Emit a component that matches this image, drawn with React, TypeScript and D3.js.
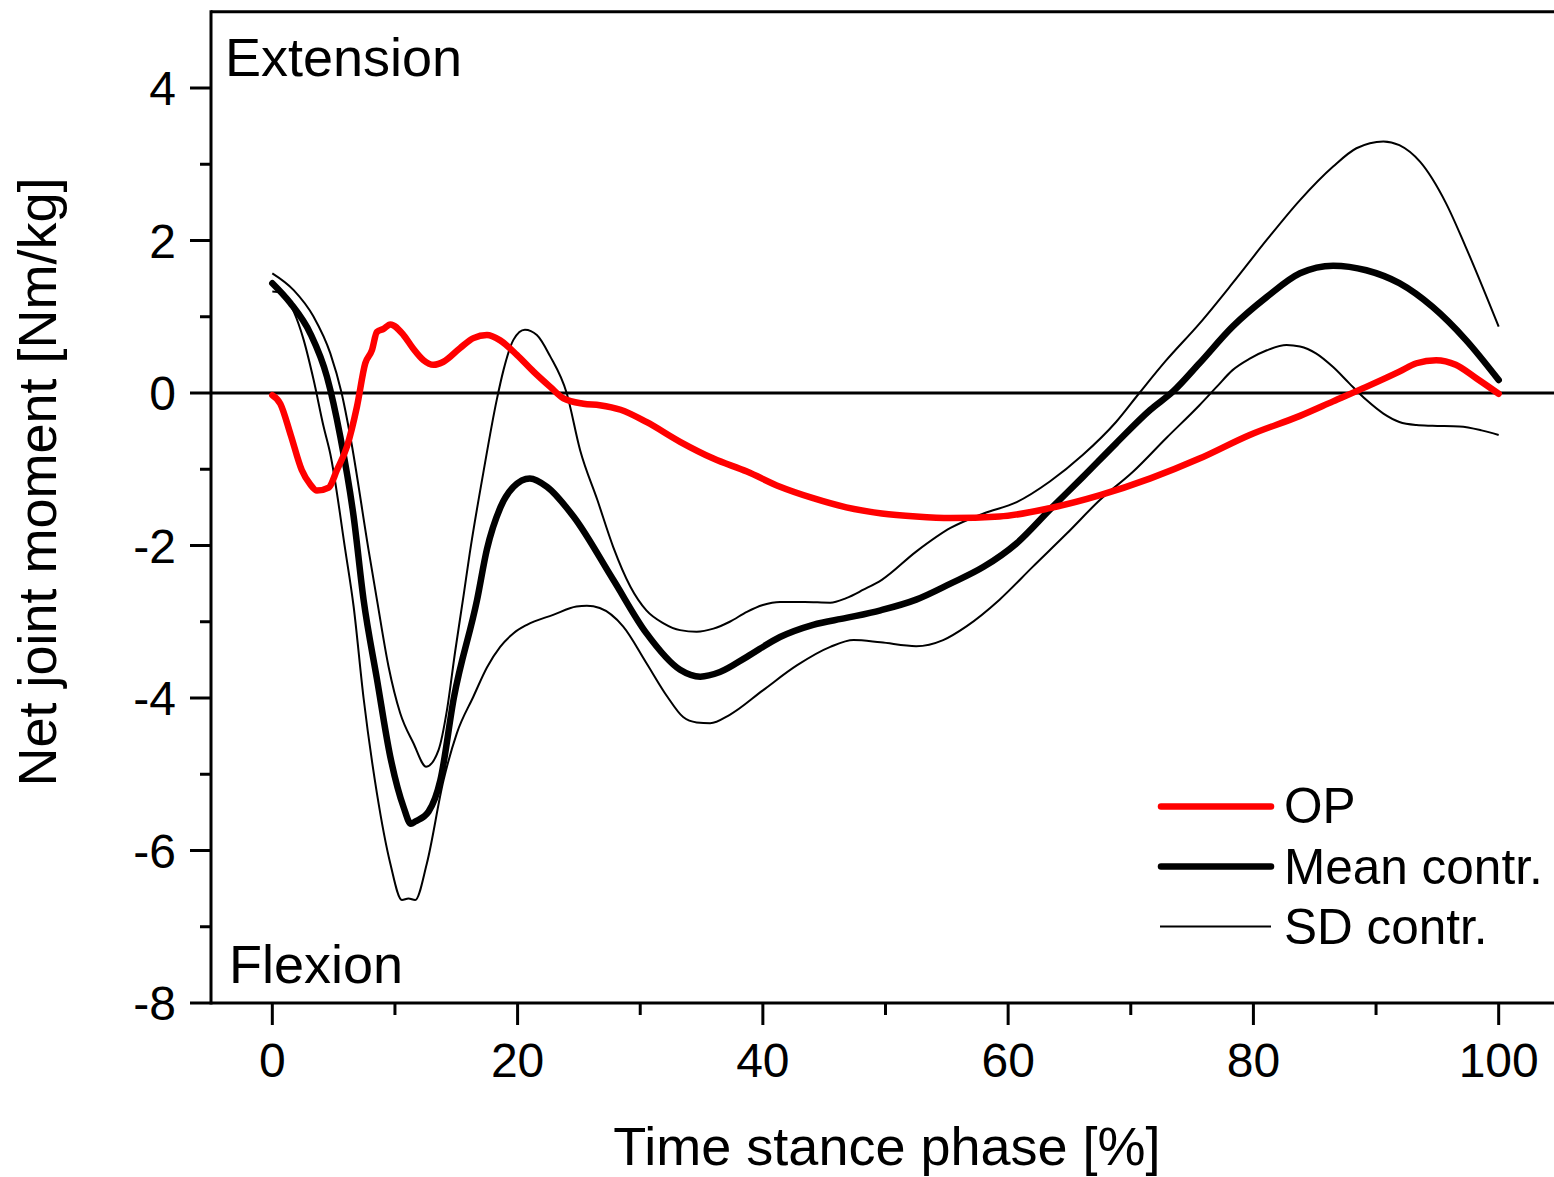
import React from "react";
import * as d3 from "d3";

const xTicksMajor = [0, 20, 40, 60, 80, 100];
const xTicksMinor = [10, 30, 50, 70, 90];
const yTicksMajor = [4, 2, 0, -2, -4, -6, -8];
const yTicksMinor = [3, 1, -1, -3, -5, -7];

const opSeries: [number, number][] = [
  [0, -0.03], [0.65, -0.14], [1.5, -0.55], [2.4, -1.01], [3.1, -1.2], [3.64, -1.28], [4.6, -1.24],
  [5.27, -1.01], [6.09, -0.7], [6.9, -0.18], [7.58, 0.39], [8.12, 0.56], [8.53, 0.8], [9.07, 0.84],
  [9.62, 0.9], [10.7, 0.76], [11.5, 0.58], [12.33, 0.43], [13.15, 0.37], [13.96, 0.41], [15.32, 0.59],
  [16.4, 0.72], [17.5, 0.76], [18.58, 0.69], [19.94, 0.5], [21.3, 0.28], [22.66, 0.08], [23.74, -0.07],
  [25.37, -0.14], [26.7, -0.16], [28.4, -0.22], [30.5, -0.38], [33.25, -0.64], [35.97, -0.86],
  [38.7, -1.03], [41.4, -1.23], [44.1, -1.38], [46.8, -1.5], [49.7, -1.58], [52.5, -1.62], [55.3, -1.64],
  [59.3, -1.62], [63.4, -1.51], [67.5, -1.34], [71.6, -1.12], [75.6, -0.86], [79.7, -0.55], [83.8, -0.3],
  [86.5, -0.11], [89.2, 0.08], [91.9, 0.28], [93.3, 0.39], [94.9, 0.43], [96.5, 0.37], [98.2, 0.19], [100, -0.01],
];

const meanSeries: [number, number][] = [
  [0, 1.44], [1.47, 1.18], [3.1, 0.78], [4.46, 0.21], [5.54, -0.57], [6.63, -1.62], [7.44, -2.71],
  [8.53, -3.75], [9.62, -4.77], [10.7, -5.43], [11.3, -5.65], [11.65, -5.62], [12.74, -5.49],
  [13.7, -5.08], [14.8, -4.0], [16.7, -2.71], [17.5, -2.05], [18.6, -1.5], [19.67, -1.23], [21.0, -1.12],
  [22.4, -1.23], [24.56, -1.62], [27.8, -2.45], [30.5, -3.15], [33.25, -3.63], [34.9, -3.72],
  [36.5, -3.66], [38.7, -3.46], [41.4, -3.2], [44.1, -3.04], [46.8, -2.95], [49.6, -2.85], [52.5, -2.71],
  [55.3, -2.5], [58.0, -2.28], [60.7, -1.97], [63.4, -1.53], [66.1, -1.1], [68.8, -0.66], [71.6, -0.22],
  [73.45, 0.02], [75.6, 0.39], [78.3, 0.87], [81.1, 1.26], [83.8, 1.57], [86.5, 1.67], [89.2, 1.61],
  [91.9, 1.44], [94.6, 1.13], [97.3, 0.7], [100, 0.17],
];

const sdUpperSeries: [number, number][] = [
  [0, 1.57], [1.74, 1.35], [3.37, 1.0], [4.73, 0.52], [5.65, 0.0], [6.36, -0.57], [7.85, -2.06],
  [8.53, -2.71], [9.48, -3.59], [10.43, -4.2], [11.5, -4.59], [12.55, -4.9], [13.56, -4.68],
  [14.24, -4.16], [14.9, -3.4], [15.6, -2.65], [16.1, -2.1], [17.2, -1.05], [18.3, -0.09],
  [18.85, 0.3], [19.67, 0.7], [20.6, 0.83], [21.57, 0.76], [22.66, 0.48], [24.0, 0.0], [25.1, -0.75],
  [26.5, -1.4], [27.8, -2.02], [29.2, -2.54], [30.5, -2.85], [31.9, -3.02], [33.25, -3.11],
  [34.6, -3.13], [35.97, -3.09], [37.3, -3.0], [38.7, -2.87], [40.0, -2.78], [41.4, -2.74],
  [43.4, -2.74], [45.5, -2.75], [46.8, -2.69], [48.2, -2.58], [49.7, -2.45], [52.5, -2.08],
  [55.3, -1.77], [58.0, -1.58], [60.7, -1.43], [63.4, -1.16], [66.1, -0.81], [68.8, -0.38], [70.7, 0.0],
  [72.9, 0.43], [75.6, 0.91], [78.3, 1.44], [81.1, 2.01], [83.8, 2.53], [86.5, 2.97], [88.4, 3.21],
  [90.6, 3.3], [91.9, 3.25], [93.6, 3.03], [95.7, 2.49], [97.3, 1.92], [100, 0.87],
];

const sdLowerSeries: [number, number][] = [
  [0, 1.33], [0.8, 1.31], [1.74, 1.07], [2.55, 0.7], [3.37, 0.17], [4.18, -0.44], [4.73, -0.8],
  [5.95, -2.06], [6.63, -2.8], [7.44, -4.0], [8.53, -5.25], [9.62, -6.17], [10.57, -6.65],
  [11.1, -6.63], [11.65, -6.65], [12.6, -6.17], [13.96, -5.08], [15.05, -4.46], [16.4, -3.98],
  [17.5, -3.6], [18.58, -3.33], [19.67, -3.15], [20.76, -3.04], [22.9, -2.91], [24.8, -2.8],
  [25.65, -2.79], [26.7, -2.82], [28.6, -3.06], [30.5, -3.54], [32.2, -3.98], [33.5, -4.25],
  [34.6, -4.32], [35.7, -4.33], [37.3, -4.22], [40.0, -3.9], [42.8, -3.57], [45.5, -3.33],
  [47.4, -3.24], [49.6, -3.27], [52.5, -3.32], [54.7, -3.24], [56.6, -3.06], [59.3, -2.71],
  [62.0, -2.28], [64.8, -1.84], [67.5, -1.4], [70.2, -1.03], [72.9, -0.59], [75.6, -0.16], [77.0, 0.08],
  [78.3, 0.3], [79.7, 0.45], [81.1, 0.56], [82.7, 0.63], [83.8, 0.61], [85.1, 0.52], [86.5, 0.34],
  [87.8, 0.13], [89.2, -0.09], [90.6, -0.27], [91.9, -0.38], [93.3, -0.42], [94.6, -0.43],
  [96.8, -0.44], [98.6, -0.49], [100, -0.55],
];

const legendLabels = ["OP", "Mean contr.", "SD contr."];

const W = 1554;
const H = 1177;
const FONT = "'Liberation Sans', Arial, Helvetica, sans-serif";

export default function App() {
  const x = d3.scaleLinear().domain([-5, 105]).range([211, 1560]);
  const y = d3.scaleLinear().domain([-8, 5]).range([1003, 11.75]);
  const line = d3
    .line<[number, number]>()
    .x((d) => x(d[0]))
    .y((d) => y(d[1]))
    .curve(d3.curveMonotoneX);

  const left = x(-5);
  const edge = W;
  const top = y(5);
  const bottom = y(-8);

  return (
    <svg
      width={W}
      height={H}
      viewBox={`0 0 ${W} ${H}`}
      style={{ position: "absolute", left: 0, top: 0, background: "#fff", display: "block", overflow: "hidden" }}
      fontFamily={FONT}
    >
      <rect x={0} y={0} width={W} height={H} fill="#fff" />
      {/* zero line */}
      <line x1={left} x2={edge} y1={y(0)} y2={y(0)} stroke="#000" strokeWidth={3} />

      {/* series */}
      <path d={line(sdUpperSeries) || ""} fill="none" stroke="#000" strokeWidth={2} />
      <path d={line(sdLowerSeries) || ""} fill="none" stroke="#000" strokeWidth={2} />
      <path d={line(meanSeries) || ""} fill="none" stroke="#000" strokeWidth={6.5} strokeLinecap="round" strokeLinejoin="round" />
      <path d={line(opSeries) || ""} fill="none" stroke="#ff0000" strokeWidth={6.5} strokeLinecap="round" strokeLinejoin="round" />

      {/* frame: left, top, bottom (right edge lies outside the picture) */}
      <line x1={left} x2={edge} y1={top} y2={top} stroke="#000" strokeWidth={3} />
      <line x1={left} x2={edge} y1={bottom} y2={bottom} stroke="#000" strokeWidth={3} />
      <line x1={left} x2={left} y1={top - 1.5} y2={bottom + 1.5} stroke="#000" strokeWidth={3} />

      {/* x ticks */}
      {xTicksMajor.map((t) => (
        <g key={"xm" + t}>
          <line x1={x(t)} x2={x(t)} y1={bottom} y2={bottom + 22} stroke="#000" strokeWidth={3} />
          <text x={x(t)} y={1077} textAnchor="middle" fontSize={48} fill="#000">
            {t}
          </text>
        </g>
      ))}
      {xTicksMinor.map((t) => (
        <line key={"xn" + t} x1={x(t)} x2={x(t)} y1={bottom} y2={bottom + 12} stroke="#000" strokeWidth={3} />
      ))}

      {/* y ticks */}
      {yTicksMajor.map((t) => (
        <g key={"ym" + t}>
          <line x1={left} x2={left - 21} y1={y(t)} y2={y(t)} stroke="#000" strokeWidth={3} />
          <text x={176} y={y(t) + 17} textAnchor="end" fontSize={48} fill="#000">
            {t}
          </text>
        </g>
      ))}
      {yTicksMinor.map((t) => (
        <line key={"yn" + t} x1={left} x2={left - 11} y1={y(t)} y2={y(t)} stroke="#000" strokeWidth={3} />
      ))}

      {/* axis titles */}
      <text x={887} y={1165} textAnchor="middle" fontSize={54} fill="#000">
        Time stance phase [%]
      </text>
      <text transform="translate(56,482) rotate(-90)" textAnchor="middle" fontSize={54} fill="#000">
        Net joint moment [Nm/kg]
      </text>

      {/* annotations */}
      <text x={225} y={76} fontSize={54} fill="#000">
        Extension
      </text>
      <text x={229} y={983} fontSize={54} fill="#000">
        Flexion
      </text>

      {/* legend */}
      <line x1={1161} x2={1271} y1={806.5} y2={806.5} stroke="#ff0000" strokeWidth={6.5} strokeLinecap="round" />
      <line x1={1161} x2={1271} y1={866.5} y2={866.5} stroke="#000" strokeWidth={6.5} strokeLinecap="round" />
      <line x1={1160} x2={1271} y1={926.5} y2={926.5} stroke="#000" strokeWidth={2} />
      <text x={1284} y={823} fontSize={49.5} fill="#000">{legendLabels[0]}</text>
      <text x={1284} y={884} fontSize={49.5} fill="#000">{legendLabels[1]}</text>
      <text x={1284} y={944} fontSize={49.5} fill="#000">{legendLabels[2]}</text>
    </svg>
  );
}
